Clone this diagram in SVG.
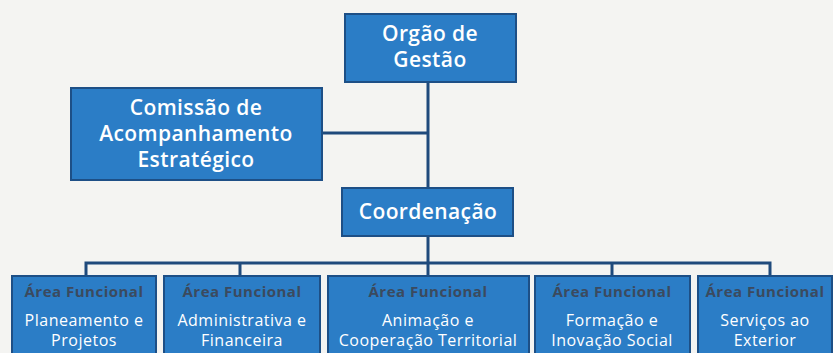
<svg xmlns="http://www.w3.org/2000/svg" width="833" height="353" viewBox="0 0 833 353">
<style>
.box{fill:#2b7dc6;stroke:#1d4f86;stroke-width:2}
.t{font-family:"Open Sans","Liberation Sans",sans-serif;fill:#ffffff;text-anchor:middle}
.big{font-size:21px;font-weight:600;letter-spacing:0.4px}
.hd{font-family:"Open Sans","Liberation Sans",sans-serif;font-size:15px;font-weight:bold;fill:#3b4a5e;text-anchor:middle;letter-spacing:0.5px}
.sm{font-size:16px;letter-spacing:0.5px}
.ln{stroke:#1f4a7c;stroke-width:3;fill:none}
</style>
<rect width="833" height="353" fill="#f4f4f2"/>
<g id="connectors">
<path class="ln" d="M428 82V187M322 133H428M428 236V276M86 276V263H770V276M240 263V276M612 263V276"/>
</g>
<g id="orgao">
<rect class="box" x="345" y="14" width="171" height="68"/>
<text class="t big" x="430" y="41">Orgão de</text>
<text class="t big" x="430" y="67">Gestão</text>
</g>
<g id="comissao">
<rect class="box" x="71" y="88" width="251" height="92"/>
<text class="t big" x="196" y="115">Comissão de</text>
<text class="t big" x="196" y="141">Acompanhamento</text>
<text class="t big" x="196" y="167">Estratégico</text>
</g>
<g id="coordenacao">
<rect class="box" x="342" y="188" width="171" height="48"/>
<text class="t big" x="428" y="219">Coordenação</text>
</g>
<g id="af1">
<rect class="box" x="12" y="276" width="144" height="82"/>
<text class="hd" x="84" y="297">Área Funcional</text>
<text class="t sm" x="84" y="326">Planeamento e</text>
<text class="t sm" x="84" y="346">Projetos</text>
</g>
<g id="af2">
<rect class="box" x="164" y="276" width="156" height="82"/>
<text class="hd" x="242" y="297">Área Funcional</text>
<text class="t sm" x="242" y="326">Administrativa e</text>
<text class="t sm" x="242" y="346">Financeira</text>
</g>
<g id="af3">
<rect class="box" x="328" y="276" width="201" height="82"/>
<text class="hd" x="428" y="297">Área Funcional</text>
<text class="t sm" x="428" y="326">Animação e</text>
<text class="t sm" x="428" y="346">Cooperação Territorial</text>
</g>
<g id="af4">
<rect class="box" x="535" y="276" width="155" height="82"/>
<text class="hd" x="612" y="297">Área Funcional</text>
<text class="t sm" x="612" y="326">Formação e</text>
<text class="t sm" x="612" y="346">Inovação Social</text>
</g>
<g id="af5">
<rect class="box" x="698" y="276" width="134" height="82"/>
<text class="hd" x="765" y="297">Área Funcional</text>
<text class="t sm" x="765" y="326">Serviços ao</text>
<text class="t sm" x="765" y="346">Exterior</text>
</g>
</svg>
